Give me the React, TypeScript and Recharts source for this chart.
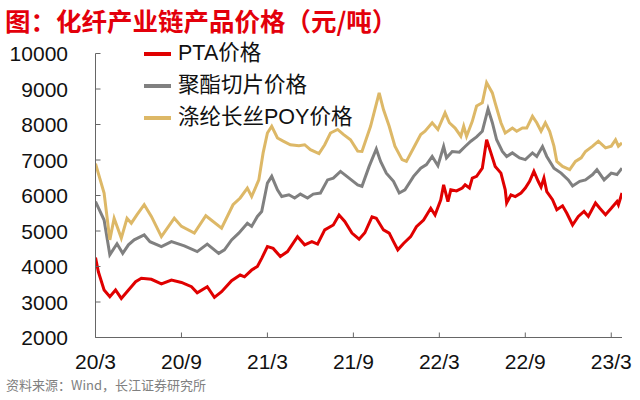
import React from 'react';
import { LineChart, Line, XAxis, YAxis } from 'recharts';

// months since 2020/3
const PTA_M = [0, 0.2, 0.6, 1.0, 1.4, 1.8, 2.2, 2.5, 2.8, 3.2, 3.9, 4.6, 5.3, 6.0, 6.7, 7.1, 7.8, 8.3, 8.8, 9.5, 10.1, 10.4, 10.9, 11.3, 11.6, 12.0, 12.4, 12.9, 13.4, 14.1, 14.6, 15.1, 15.5, 16.0, 16.6, 17.0, 17.4, 17.9, 18.4, 18.8, 19.3, 19.6, 20.1, 20.5, 20.8, 21.1, 21.5, 22.0, 22.4, 22.9, 23.4, 23.7, 24.1, 24.3, 24.6, 24.8, 25.2, 25.6, 25.8, 26.1, 26.3, 26.6, 27.0, 27.3, 27.6, 27.9, 28.3, 28.6, 28.7, 29.0, 29.3, 29.7, 30.0, 30.3, 30.6, 30.9, 31.1, 31.3, 31.5, 31.9, 32.2, 32.6, 32.9, 33.3, 33.7, 34.1, 34.4, 34.9, 35.2, 35.6, 36.0, 36.4, 36.5, 36.75];
const PTA_V = [4250, 3850, 3340, 3150, 3340, 3100, 3290, 3430, 3570, 3670, 3640, 3510, 3620, 3550, 3430, 3260, 3430, 3130, 3290, 3600, 3760, 3710, 3900, 4000, 4230, 4560, 4510, 4280, 4420, 4840, 4610, 4700, 4630, 5030, 5170, 5450, 5270, 4940, 4770, 4950, 5400, 5360, 5030, 4940, 4700, 4470, 4650, 4840, 5120, 5310, 5640, 5450, 5880, 6300, 5830, 6160, 6130, 6210, 6300, 6210, 6490, 6540, 6770, 7570, 7200, 6820, 6630, 6160, 5790, 6020, 5970, 6070, 6210, 6400, 6680, 6400, 6240, 6490, 6110, 5880, 5600, 5710, 5500, 5170, 5410, 5550, 5410, 5790, 5640, 5460, 5640, 5830, 5740, 6070];

const CHIP_M = [0, 0.6, 1.0, 1.5, 1.9, 2.3, 2.7, 3.4, 3.8, 4.6, 5.3, 6.2, 7.1, 7.8, 8.6, 9.0, 9.5, 10.0, 10.6, 10.9, 11.3, 11.6, 12.0, 12.3, 12.7, 13.0, 13.5, 13.9, 14.3, 14.8, 15.2, 15.7, 16.2, 16.6, 17.1, 17.7, 18.3, 18.6, 19.1, 19.6, 19.9, 20.3, 20.8, 21.2, 21.6, 22.2, 22.7, 23.1, 23.5, 23.9, 24.3, 24.5, 24.9, 25.4, 25.8, 26.2, 26.6, 27.0, 27.4, 27.7, 28.0, 28.4, 28.7, 29.1, 29.6, 30.0, 30.5, 30.8, 31.2, 31.5, 32.0, 32.5, 33.0, 33.3, 33.8, 34.2, 34.7, 35.0, 35.5, 36.0, 36.4, 36.75];
const CHIP_V = [5830, 5310, 4330, 4640, 4370, 4610, 4750, 4890, 4700, 4560, 4700, 4580, 4420, 4630, 4370, 4470, 4750, 4940, 5220, 5130, 5410, 5550, 6350, 6540, 6160, 5970, 6020, 5930, 6040, 5930, 6040, 6070, 6440, 6490, 6680, 6490, 6300, 6260, 6820, 7310, 6960, 6630, 6400, 6070, 6160, 6540, 6770, 6870, 7100, 6840, 7380, 7060, 7240, 7220, 7380, 7530, 7650, 7810, 8440, 8050, 7570, 7240, 7100, 7200, 7060, 7010, 7200, 7100, 7380, 7100, 6770, 6630, 6440, 6270, 6400, 6440, 6590, 6730, 6440, 6630, 6590, 6770];

const POY_M = [0, 0.6, 1.0, 1.3, 1.8, 2.2, 2.5, 2.9, 3.4, 3.9, 4.6, 5.5, 6.0, 6.9, 7.7, 8.8, 9.6, 10.1, 10.6, 10.9, 11.4, 11.7, 12.0, 12.3, 12.7, 13.1, 13.6, 14.2, 14.6, 15.0, 15.6, 16.0, 16.4, 16.9, 17.3, 17.8, 18.3, 18.6, 19.2, 19.8, 20.1, 20.5, 20.9, 21.4, 21.7, 22.2, 22.7, 23.0, 23.5, 23.9, 24.4, 24.7, 25.1, 25.5, 25.7, 25.9, 26.3, 26.6, 27.0, 27.3, 27.7, 27.9, 28.3, 28.6, 29.1, 29.4, 29.8, 30.1, 30.5, 30.8, 31.1, 31.4, 31.7, 32.0, 32.2, 32.6, 33.1, 33.5, 33.9, 34.2, 34.7, 35.1, 35.6, 36.0, 36.3, 36.5, 36.75];
const POY_V = [6900, 6070, 4750, 5360, 4800, 5360, 5220, 5460, 5740, 5410, 4840, 5360, 5130, 4940, 5430, 5080, 5740, 5930, 6210, 5970, 6440, 7200, 7760, 7950, 7620, 7530, 7430, 7400, 7430, 7290, 7180, 7430, 7760, 7860, 7720, 7570, 7250, 7240, 7950, 8890, 8420, 7950, 7390, 7010, 6960, 7340, 7720, 7810, 8050, 7860, 8330, 8050, 7900, 7670, 7950, 7670, 8090, 8520, 8610, 9180, 8890, 8600, 8050, 7760, 7900, 7810, 7900, 7900, 8230, 8050, 7810, 8050, 7810, 7390, 6960, 6820, 6730, 6960, 7060, 7240, 7390, 7530, 7340, 7390, 7570, 7390, 7480];

const X_TICKS = [0, 6, 12, 18, 24, 30, 36];
const X_LABELS = ['20/3', '20/9', '21/3', '21/9', '22/3', '22/9', '23/3'];
const Y_TICKS = [2000, 3000, 4000, 5000, 6000, 7000, 8000, 9000, 10000];

const zip = (m: number[], v: number[]) => m.map((x, i) => ({ m: x, v: v[i] }));

const SERIES = [
  { name: 'PTA价格', color: '#E00000', data: zip(PTA_M, PTA_V) },
  { name: '聚酯切片价格', color: '#808080', data: zip(CHIP_M, CHIP_V) },
  { name: '涤纶长丝POY价格', color: '#DDB867', data: zip(POY_M, POY_V) },
];

const AXIS = '#666';
const FONT = '"Liberation Sans", Arial, "Noto Sans CJK SC", sans-serif';

function XTick({ x, y, payload }: any) {
  const i = X_TICKS.indexOf(payload.value);
  return (
    <g>
      <line x1={x} x2={x} y1={y} y2={y - 5} stroke={AXIS} />
      <text x={x} y={y + 31} textAnchor="middle" fontSize={21} fontFamily={FONT} fill="#111">
        {X_LABELS[i]}
      </text>
    </g>
  );
}

function YTick({ x, y, payload }: any) {
  return (
    <g>
      <line x1={x} x2={x + 5} y1={y} y2={y} stroke={AXIS} />
      <text x={x - 27.5} y={y + 7.5} textAnchor="end" fontSize={21} fontFamily={FONT} fill="#111">
        {payload.value}
      </text>
    </g>
  );
}

export default function App() {
  return (
    <div style={{ position: 'absolute', left: 0, top: 0, width: 640, height: 400, background: '#fff' }}>
      <div style={{
        position: 'absolute', left: 5, top: 7, lineHeight: 1,
        fontFamily: '"Noto Sans CJK SC", sans-serif', fontWeight: 700, fontSize: 25.5,
        color: '#E3000B', whiteSpace: 'nowrap',
      }}>
        图：化纤产业链产品价格（元/吨）
      </div>

      <LineChart width={640} height={400} margin={{ top: 53.5, right: 18, bottom: 22.5, left: 0 }}>
        <XAxis
          type="number"
          dataKey="m"
          domain={[0, 36.75]}
          ticks={X_TICKS}
          allowDataOverflow
          height={40}
          tickSize={0}
          tickMargin={0}
          tickLine={false}
          axisLine={{ stroke: AXIS }}
          tick={<XTick />}
          interval={0}
        />
        <YAxis
          domain={[2000, 10000]}
          ticks={Y_TICKS}
          width={95.5}
          tickSize={0}
          tickMargin={0}
          tickLine={false}
          axisLine={{ stroke: AXIS }}
          tick={<YTick />}
          interval={0}
        />
        {SERIES.map((s) => (
          <Line
            key={s.name}
            data={s.data}
            dataKey="v"
            name={s.name}
            stroke={s.color}
            strokeWidth={3}
            dot={false}
            type="linear"
            isAnimationActive={false}
          />
        ))}
      </LineChart>

      <div style={{ position: 'absolute', left: 144, top: 38, fontFamily: FONT, fontSize: 21.5, color: '#111' }}>
        {SERIES.map((s) => (
          <div key={s.name} style={{ height: 32, display: 'flex', alignItems: 'center' }}>
            <span style={{ display: 'inline-block', width: 27, height: 3.5, background: s.color, marginRight: 7 }} />
            <span style={{ lineHeight: 1 }}>{s.name}</span>
          </div>
        ))}
      </div>

      <div style={{
        position: 'absolute', left: 6, top: 378, lineHeight: 1,
        fontFamily: '"Noto Sans CJK SC", sans-serif', fontSize: 13, color: '#808080',
      }}>
        资料来源：Wind，长江证券研究所
      </div>
    </div>
  );
}
